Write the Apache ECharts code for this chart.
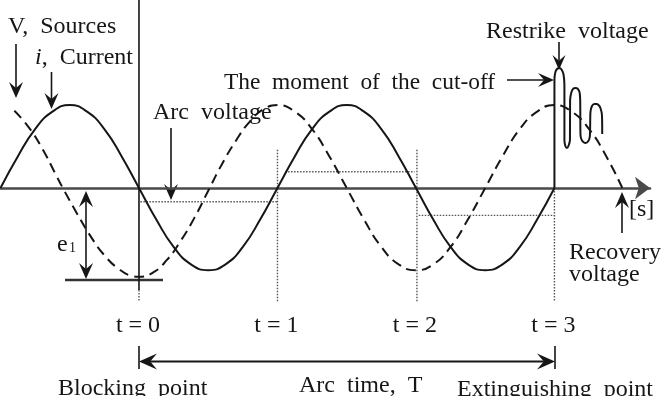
<!DOCTYPE html>
<html>
<head>
<meta charset="utf-8">
<script src="https://cdn.jsdelivr.net/npm/echarts@6/dist/echarts.min.js"></script>
<style>html,body{margin:0;padding:0;background:#fff;}#c{width:666px;height:396px;}</style>
</head>
<body>
<div id="c"></div>
<script>
// ---- data (time in half-periods, t = 0 at blocking point; value relative to current peak) ----
const currentT = [-1,-0.875,-0.75,-0.625,-0.5,-0.375,-0.25,-0.125,0,0.125,0.25,0.375,0.5,0.625,0.75,0.875,1,1.125,1.25,1.375,1.5,1.625,1.75,1.875,2,2.125,2.25,2.375,2.5,2.625,2.75,2.875,3];
const currentV = [0,0.38,0.71,0.92,1,0.92,0.71,0.38,0,-0.38,-0.71,-0.92,-0.99,-0.92,-0.71,-0.38,0,0.38,0.71,0.92,1,0.92,0.71,0.38,0,-0.38,-0.71,-0.92,-0.99,-0.92,-0.71,-0.38,0];

const voltageT = [-0.9,-0.8,-0.7,-0.6,-0.55,-0.45,-0.35,-0.25,-0.15,-0.05,0,0.1,0.2,0.3,0.4,0.51,0.6,0.7,0.8,0.9,1.0,1.125,1.25,1.375,1.5,1.625,1.75,1.875,2,2.125,2.25,2.375,2.5,2.625,2.75,2.875,3,3.125,3.25,3.375,3.49];
const voltageV = [0.93,0.74,0.48,0.16,0,-0.30,-0.58,-0.81,-0.97,-1.06,-1.07,-1.02,-0.87,-0.64,-0.36,0,0.29,0.57,0.80,0.95,1.0,0.92,0.71,0.38,0,-0.38,-0.71,-0.92,-0.99,-0.92,-0.71,-0.38,0,0.38,0.71,0.92,1.0,0.92,0.71,0.38,0];

const restrikeT = [3.000,3.000,3.007,3.022,3.036,3.051,3.065,3.072,3.072,3.079,3.090,3.101,3.112,3.113,3.123,3.137,3.152,3.166,3.181,3.186,3.188,3.199,3.224,3.245,3.256,3.260,3.271,3.289,3.303,3.318,3.332,3.343,3.345];
const restrikeV = [0,1.301,1.398,1.440,1.446,1.428,1.373,1.241,0.578,0.506,0.482,0.506,0.578,1.060,1.157,1.199,1.205,1.199,1.157,1.060,0.639,0.572,0.542,0.566,0.627,0.916,0.988,1.012,1.012,1.000,0.964,0.880,0.651];

// arc voltage levels between the current zeros
const arcStartT = [0.01, 1.055, 2.02];
const arcEndT   = [1.0, 1.99, 3.0];
const arcV      = [-0.165, 0.196, -0.33];

// dotted markers at the current zeros
const markerT    = [1, 2.007, 3];
const markerTopV = [0.46, 0.46, 0];
const markerBotV = [-1.37, -1.37, -1.37];

// vertical reference at t = 0
const refT = [0, 0];
const refV = [2.265, -1.23];

const tickT = [0, 1, 2, 3];
const tickLabels = ['t = 0', 't = 1', 't = 2', 't = 3'];

// ---- build ----
const zip = (a, b) => a.map((v, i) => [v, b[i]]);
const C = '#161616';
const arcData = [];
arcStartT.forEach((s, i) => { arcData.push([s, arcV[i]], [arcEndT[i], arcV[i]], ['-', '-']); });
const markerData = [];
markerT.forEach((t, i) => { markerData.push([t, markerTopV[i]], [t, markerBotV[i]], ['-', '-']); });
markerData.push([0, -1.23], [0, -1.36]);

const chart = echarts.init(document.getElementById('c'), null, {renderer: 'canvas'});
const FONT = '24px "Liberation Serif"';

function arrowEls(x1, y1, x2, y2, L, W, lw) {
  L = L || 15; W = W || 14; lw = lw || 1.6;
  const dx = x2 - x1, dy = y2 - y1, d = Math.hypot(dx, dy), ux = dx / d, uy = dy / d, px = -uy, py = ux;
  const bx = x2 - ux * L, by = y2 - uy * L;
  const nx = x2 - ux * L * 0.62, ny = y2 - uy * L * 0.62;
  return [
    {type: 'line', silent: true, shape: {x1: x1, y1: y1, x2: nx, y2: ny}, style: {stroke: C, lineWidth: lw}},
    {type: 'polygon', silent: true, shape: {points: [[x2, y2], [bx + px * W / 2, by + py * W / 2], [nx, ny], [bx - px * W / 2, by - py * W / 2]]}, style: {fill: C}}
  ];
}
function txt(text, x, y, align, extra) {
  const st = Object.assign({text: text, font: FONT, fill: C, textAlign: align || 'left', textVerticalAlign: 'middle'}, extra || {});
  return {type: 'text', silent: true, x: x, y: y, style: st};
}

chart.setOption({
  animation: false,
  backgroundColor: '#fff',
  grid: {left: 0.5, right: 16, top: 0, bottom: 0},
  xAxis: {
    type: 'value', min: -1, max: 3.69,
    axisLine: {onZero: true, lineStyle: {color: '#4a4a4a', width: 2.5}, symbol: ['none', 'arrow'], symbolSize: [17, 15], symbolOffset: [0, 0]},
    axisTick: {show: false}, axisLabel: {show: false}, splitLine: {show: false}
  },
  yAxis: {type: 'value', min: -2.506, max: 2.265, show: false, splitLine: {show: false}},
  series: [
    {type: 'line', data: zip(currentT, currentV), smooth: true, symbol: 'none', lineStyle: {color: C, width: 2}, z: 3},
    {type: 'line', data: zip(voltageT, voltageV), smooth: true, symbol: 'none', lineStyle: {color: C, width: 2, type: [10, 6]}, z: 3},
    {type: 'line', data: zip(restrikeT, restrikeV), smooth: 0.25, symbol: 'none', lineStyle: {color: C, width: 2}, z: 4},
    {type: 'line', data: arcData, symbol: 'none', connectNulls: false, lineStyle: {color: '#555', width: 1.4, type: [1.5, 1.5]}, z: 2},
    {type: 'line', data: markerData, symbol: 'none', connectNulls: false, lineStyle: {color: '#555', width: 1.4, type: [1.5, 1.5]}, z: 2},
    {type: 'line', data: zip(refT, refV), symbol: 'none', lineStyle: {color: C, width: 1.6}, z: 2}
  ]
});

const g = [];
// tick labels under the current zeros
tickT.forEach((t, i) => {
  const p = chart.convertToPixel({gridIndex: 0}, [t, 0]);
  g.push(txt(tickLabels[i], p[0] - 1, 325.5, 'center'));
});
g.push(txt('V,  Sources', 8, 26.5));
g.push(...arrowEls(16, 44, 16, 98, 16, 14));
g.push(txt('{it|i},  Current', 35, 57.5, 'left', {rich: {it: {font: 'italic 24px "Liberation Serif"', fill: C}}}));
g.push(...arrowEls(51.5, 72, 51.5, 109, 16, 14));
g.push(txt('Arc  voltage', 153, 112.5));
g.push(...arrowEls(171, 128, 171, 200, 16, 14));
g.push(txt('The  moment  of  the  cut-off', 224, 82.5, 'left', {font: '23.4px "Liberation Serif"'}));
g.push(...arrowEls(507, 80, 554, 80, 16, 14));
g.push(txt('Restrike  voltage', 486, 31.5));
g.push(...arrowEls(559, 42, 559, 70, 15, 13));
g.push(txt('[s]', 629, 209.5));
g.push(...arrowEls(622, 233, 622, 192, 16, 14));
g.push(txt('Recovery', 569, 252.5));
g.push(txt('voltage', 569, 274.5));
// e1 span
g.push(...arrowEls(86, 235, 86, 191, 16, 14));
g.push(...arrowEls(86, 235, 86, 279, 16, 14));
g.push({type: 'line', silent: true, shape: {x1: 65, y1: 280, x2: 163, y2: 280}, style: {stroke: '#333', lineWidth: 2.5}});
g.push(txt('e', 57, 244.5));
g.push(txt('1', 69, 248.5, 'left', {font: '14px "Liberation Serif"'}));
// arc time span
g.push(...arrowEls(347, 361.5, 139, 361.5, 18, 16, 2));
g.push(...arrowEls(347, 361.5, 555, 361.5, 18, 16, 2));
g.push({type: 'line', silent: true, shape: {x1: 139, y1: 346, x2: 139, y2: 369}, style: {stroke: C, lineWidth: 1.6}});
g.push({type: 'line', silent: true, shape: {x1: 555, y1: 346, x2: 555, y2: 369}, style: {stroke: C, lineWidth: 1.6}});
g.push(txt('Blocking  point', 58, 388.5));
g.push(txt('Arc  time,  T', 299, 385.5));
g.push(txt('Extinguishing  point', 457, 389.5));
chart.setOption({graphic: {elements: g}});
</script>
</body>
</html>
